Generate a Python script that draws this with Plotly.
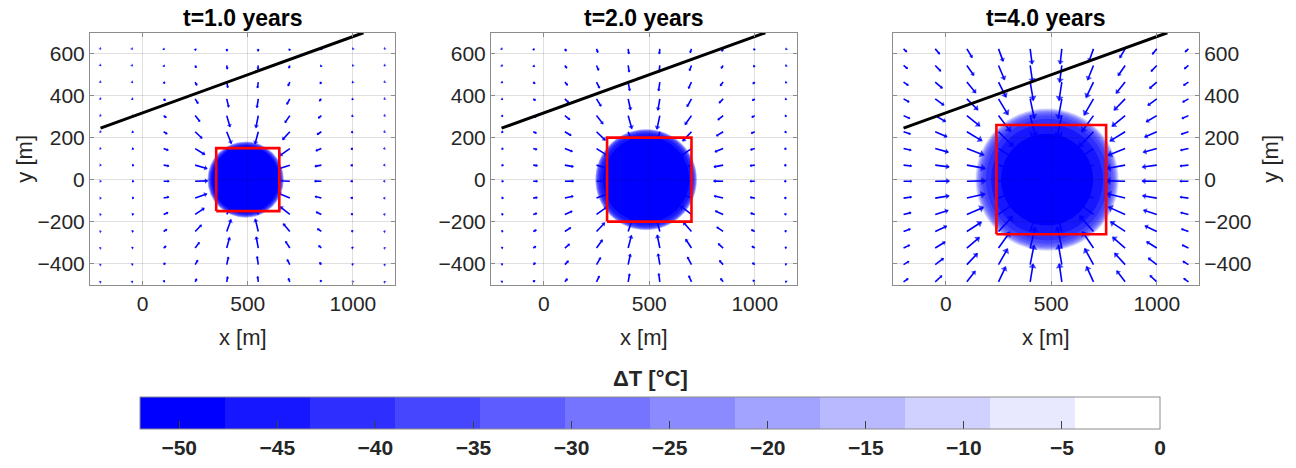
import numpy as np
import plotly.graph_objects as go

# ---------------------------------------------------------------- data
titles = ["t=1.0 years", "t=2.0 years", "t=4.0 years"]

# centre of the cold plume [m]
plume_cx = [490, 485, 480]
plume_cy = [0, 0, 0]

# radius [m] at which dT rises above each contour level, innermost level first
dT_levels = [-47.67, -43.33, -39.0, -34.67, -30.33, -26.0, -21.67, -17.33, -13.0, -8.67, -4.33]
level_radius_t1 = [160, 166, 170, 173, 175, 177, 178, 179, 180, 181, 182]
level_radius_t2 = [205, 218, 226, 230, 233, 235, 237, 238, 239, 240, 241]
level_radius_t4 = [218, 265, 290, 305, 315, 322, 327, 331, 334, 337, 340]

# red box around the plume [m]
box_x0 = [350, 300, 240]
box_x1 = [650, 700, 760]
box_y0 = [-150, -200, -260]
box_y1 = [150, 200, 260]

# black line
line_x = [-200, 1050]
line_y = [245, 700]

# quiver grid [m]
grid_x = [-200, -50, 100, 250, 400, 550, 700, 850, 1000, 1150]
grid_y = [-487, -405, -326, -247, -166, -88, -8, 69, 148, 228, 305, 385, 465, 544, 623]

# arrow length [m] against (y-compressed) distance from plume centre [m]
arrow_dist = [0, 150, 200, 250, 300, 380, 440, 505, 560, 700, 850, 1000]
arrow_len_t1 = [30, 55, 60, 58, 45, 28, 18, 11, 7, 3, 2, 1]
arrow_len_t2 = [35, 65, 70, 65, 57, 42, 32, 24, 17, 8, 4, 3]
arrow_len_t4 = [50, 95, 100, 103, 97, 87, 79, 71, 60, 35, 20, 15]

# colour bar
cbar_min, cbar_max = -52, 0
cbar_ticks = [-50, -45, -40, -35, -30, -25, -20, -15, -10, -5, 0]

# ---------------------------------------------------------------- layout helpers
W, H = 1296, 468
n_bands = 12
band_colors = []
for i in range(n_bands):
    v = int(round(255 * i / (n_bands - 1)))
    band_colors.append(f"rgb({v},{v},255)")
colorscale = []
for i, c in enumerate(band_colors):
    colorscale.append([i / n_bands, c])
    colorscale.append([(i + 1) / n_bands, c])

px_left = [90, 491, 893]
px_right = [395, 797, 1199]
px_top, px_bot = 33, 287

FONT = "Liberation Sans, Arial, Helvetica, sans-serif"
TXT = "#262626"
BLUE = "#0000ff"
px_per_m = (px_right[0] - px_left[0]) / 1450.0

radii = [level_radius_t1, level_radius_t2, level_radius_t4]
lengths = [arrow_len_t1, arrow_len_t2, arrow_len_t4]

fig = go.Figure()
shapes = []
annotations = []

for p in range(3):
    xa = "x" if p == 0 else f"x{p + 1}"
    ya = "y" if p == 0 else f"y{p + 1}"
    cx, cy = plume_cx[p], plume_cy[p]

    # filled dT contours, drawn as nested discs
    for k in range(len(dT_levels) - 1, -1, -1):
        r = radii[p][k]
        shapes.append(dict(type="circle", xref=xa, yref=ya,
                           x0=cx - r, x1=cx + r, y0=cy - r, y1=cy + r,
                           fillcolor=band_colors[k], line=dict(width=0),
                           layer="below"))

    # quiver arrows pointing toward the plume centre
    gx, gy = np.meshgrid(np.array(grid_x, float), np.array(grid_y, float))
    gx, gy = gx.ravel(), gy.ravel()
    dx, dy = gx - cx, gy - cy
    dist = np.hypot(dx, dy)
    dist_eff = np.hypot(dx, 0.8 * dy)
    L = np.interp(dist_eff, arrow_dist, lengths[p])
    ux = np.where(dist > 0, -dx / np.maximum(dist, 1e-9), 0.0)
    uy = np.where(dist > 0, -dy / np.maximum(dist, 1e-9), 0.0)
    u, v = L * ux, L * uy
    sx, sy = [], []
    for i in range(len(gx)):
        sx += [gx[i], gx[i] + u[i], None]
        sy += [gy[i], gy[i] + v[i], None]
    fig.add_trace(go.Scatter(x=sx, y=sy, mode="lines", xaxis=xa, yaxis=ya,
                             line=dict(color=BLUE, width=1.6),
                             hoverinfo="skip", showlegend=False))
    head_px = np.clip(L * px_per_m * 0.38, 3.0, 7.0)
    back = head_px * 0.3 / px_per_m
    hx = gx + u - back * ux
    hy = gy + v - back * uy
    ang = np.degrees(np.arctan2(u, v))
    fig.add_trace(go.Scatter(x=hx, y=hy, mode="markers", xaxis=xa, yaxis=ya,
                             marker=dict(symbol="triangle-up", size=head_px,
                                         angle=ang, color=BLUE, line=dict(width=0)),
                             hoverinfo="skip", showlegend=False))

    # black line
    fig.add_trace(go.Scatter(x=line_x, y=line_y, mode="lines", xaxis=xa, yaxis=ya,
                             line=dict(color="black", width=3),
                             hoverinfo="skip", showlegend=False))
    # red box
    fig.add_trace(go.Scatter(x=[box_x0[p], box_x1[p], box_x1[p], box_x0[p], box_x0[p]],
                             y=[box_y0[p], box_y0[p], box_y1[p], box_y1[p], box_y0[p]],
                             mode="lines", xaxis=xa, yaxis=ya,
                             line=dict(color="#ff0000", width=2.6),
                             hoverinfo="skip", showlegend=False))

    d0, d1 = px_left[p] / W, px_right[p] / W
    axis_common = dict(showgrid=True, gridcolor="rgba(0,0,0,0.12)", gridwidth=1,
                       zeroline=False, showline=True, linecolor="#8c8c8c", linewidth=1,
                       mirror="ticks", ticks="inside", ticklen=4, tickcolor="#8c8c8c",
                       tickfont=dict(family=FONT, size=21, color=TXT),
                       automargin=False, fixedrange=True)
    fig.update_layout(**{
        ("xaxis" if p == 0 else f"xaxis{p + 1}"): dict(
            domain=[d0, d1], range=[-250, 1200], anchor=ya,
            tickvals=[0, 500, 1000], **axis_common),
        ("yaxis" if p == 0 else f"yaxis{p + 1}"): dict(
            domain=[1 - px_bot / H, 1 - px_top / H], range=[-500, 700], anchor=xa,
            tickvals=[-400, -200, 0, 200, 400, 600],
            side="right" if p == 2 else "left", **axis_common),
    })

    xc = (px_left[p] + px_right[p]) / 2 / W
    annotations.append(dict(text=f"<b>{titles[p]}</b>", x=xc, y=1 - 18 / H,
                            xref="paper", yref="paper", showarrow=False,
                            xanchor="center", yanchor="middle",
                            font=dict(family=FONT, size=23, color="black")))
    annotations.append(dict(text="x [m]", x=xc, y=1 - 340 / H,
                            xref="paper", yref="paper", showarrow=False,
                            xanchor="center", yanchor="middle",
                            font=dict(family=FONT, size=22, color=TXT)))

for xp in (25, 1271):
    annotations.append(dict(text="y [m]", x=xp / W, y=1 - 160 / H, textangle=-90,
                            xref="paper", yref="paper", showarrow=False,
                            xanchor="center", yanchor="middle",
                            font=dict(family=FONT, size=22, color=TXT)))

annotations.append(dict(text="<b>ΔT [°C]</b>", x=650 / W, y=1 - 382 / H,
                        xref="paper", yref="paper", showarrow=False,
                        xanchor="center", yanchor="middle",
                        font=dict(family=FONT, size=22, color=TXT)))

# colour bar carrier (points lie outside the visible range)
fig.add_trace(go.Scatter(
    x=[-1000, -1000], y=[0, 0], mode="markers", xaxis="x", yaxis="y",
    marker=dict(color=[cbar_min, cbar_max], cmin=cbar_min, cmax=cbar_max,
                colorscale=colorscale, showscale=True, size=1,
                colorbar=dict(orientation="h", x=650 / W, xanchor="center",
                              len=1020 / W, lenmode="fraction",
                              thickness=32, thicknessmode="pixels",
                              y=1 - 400 / H, yanchor="top", xpad=0, ypad=0,
                              outlinecolor="#8c8c8c", outlinewidth=1,
                              tickvals=cbar_ticks, ticks="inside", ticklen=8,
                              tickcolor="#404040",
                              tickfont=dict(family=FONT, size=21, color=TXT,
                                            weight="bold"))),
    hoverinfo="skip", showlegend=False))

fig.update_layout(width=W, height=H, margin=dict(l=0, r=0, t=0, b=0),
                  paper_bgcolor="white", plot_bgcolor="white",
                  shapes=shapes, annotations=annotations,
                  font=dict(family=FONT, color=TXT))

fig.write_html("out.html")
